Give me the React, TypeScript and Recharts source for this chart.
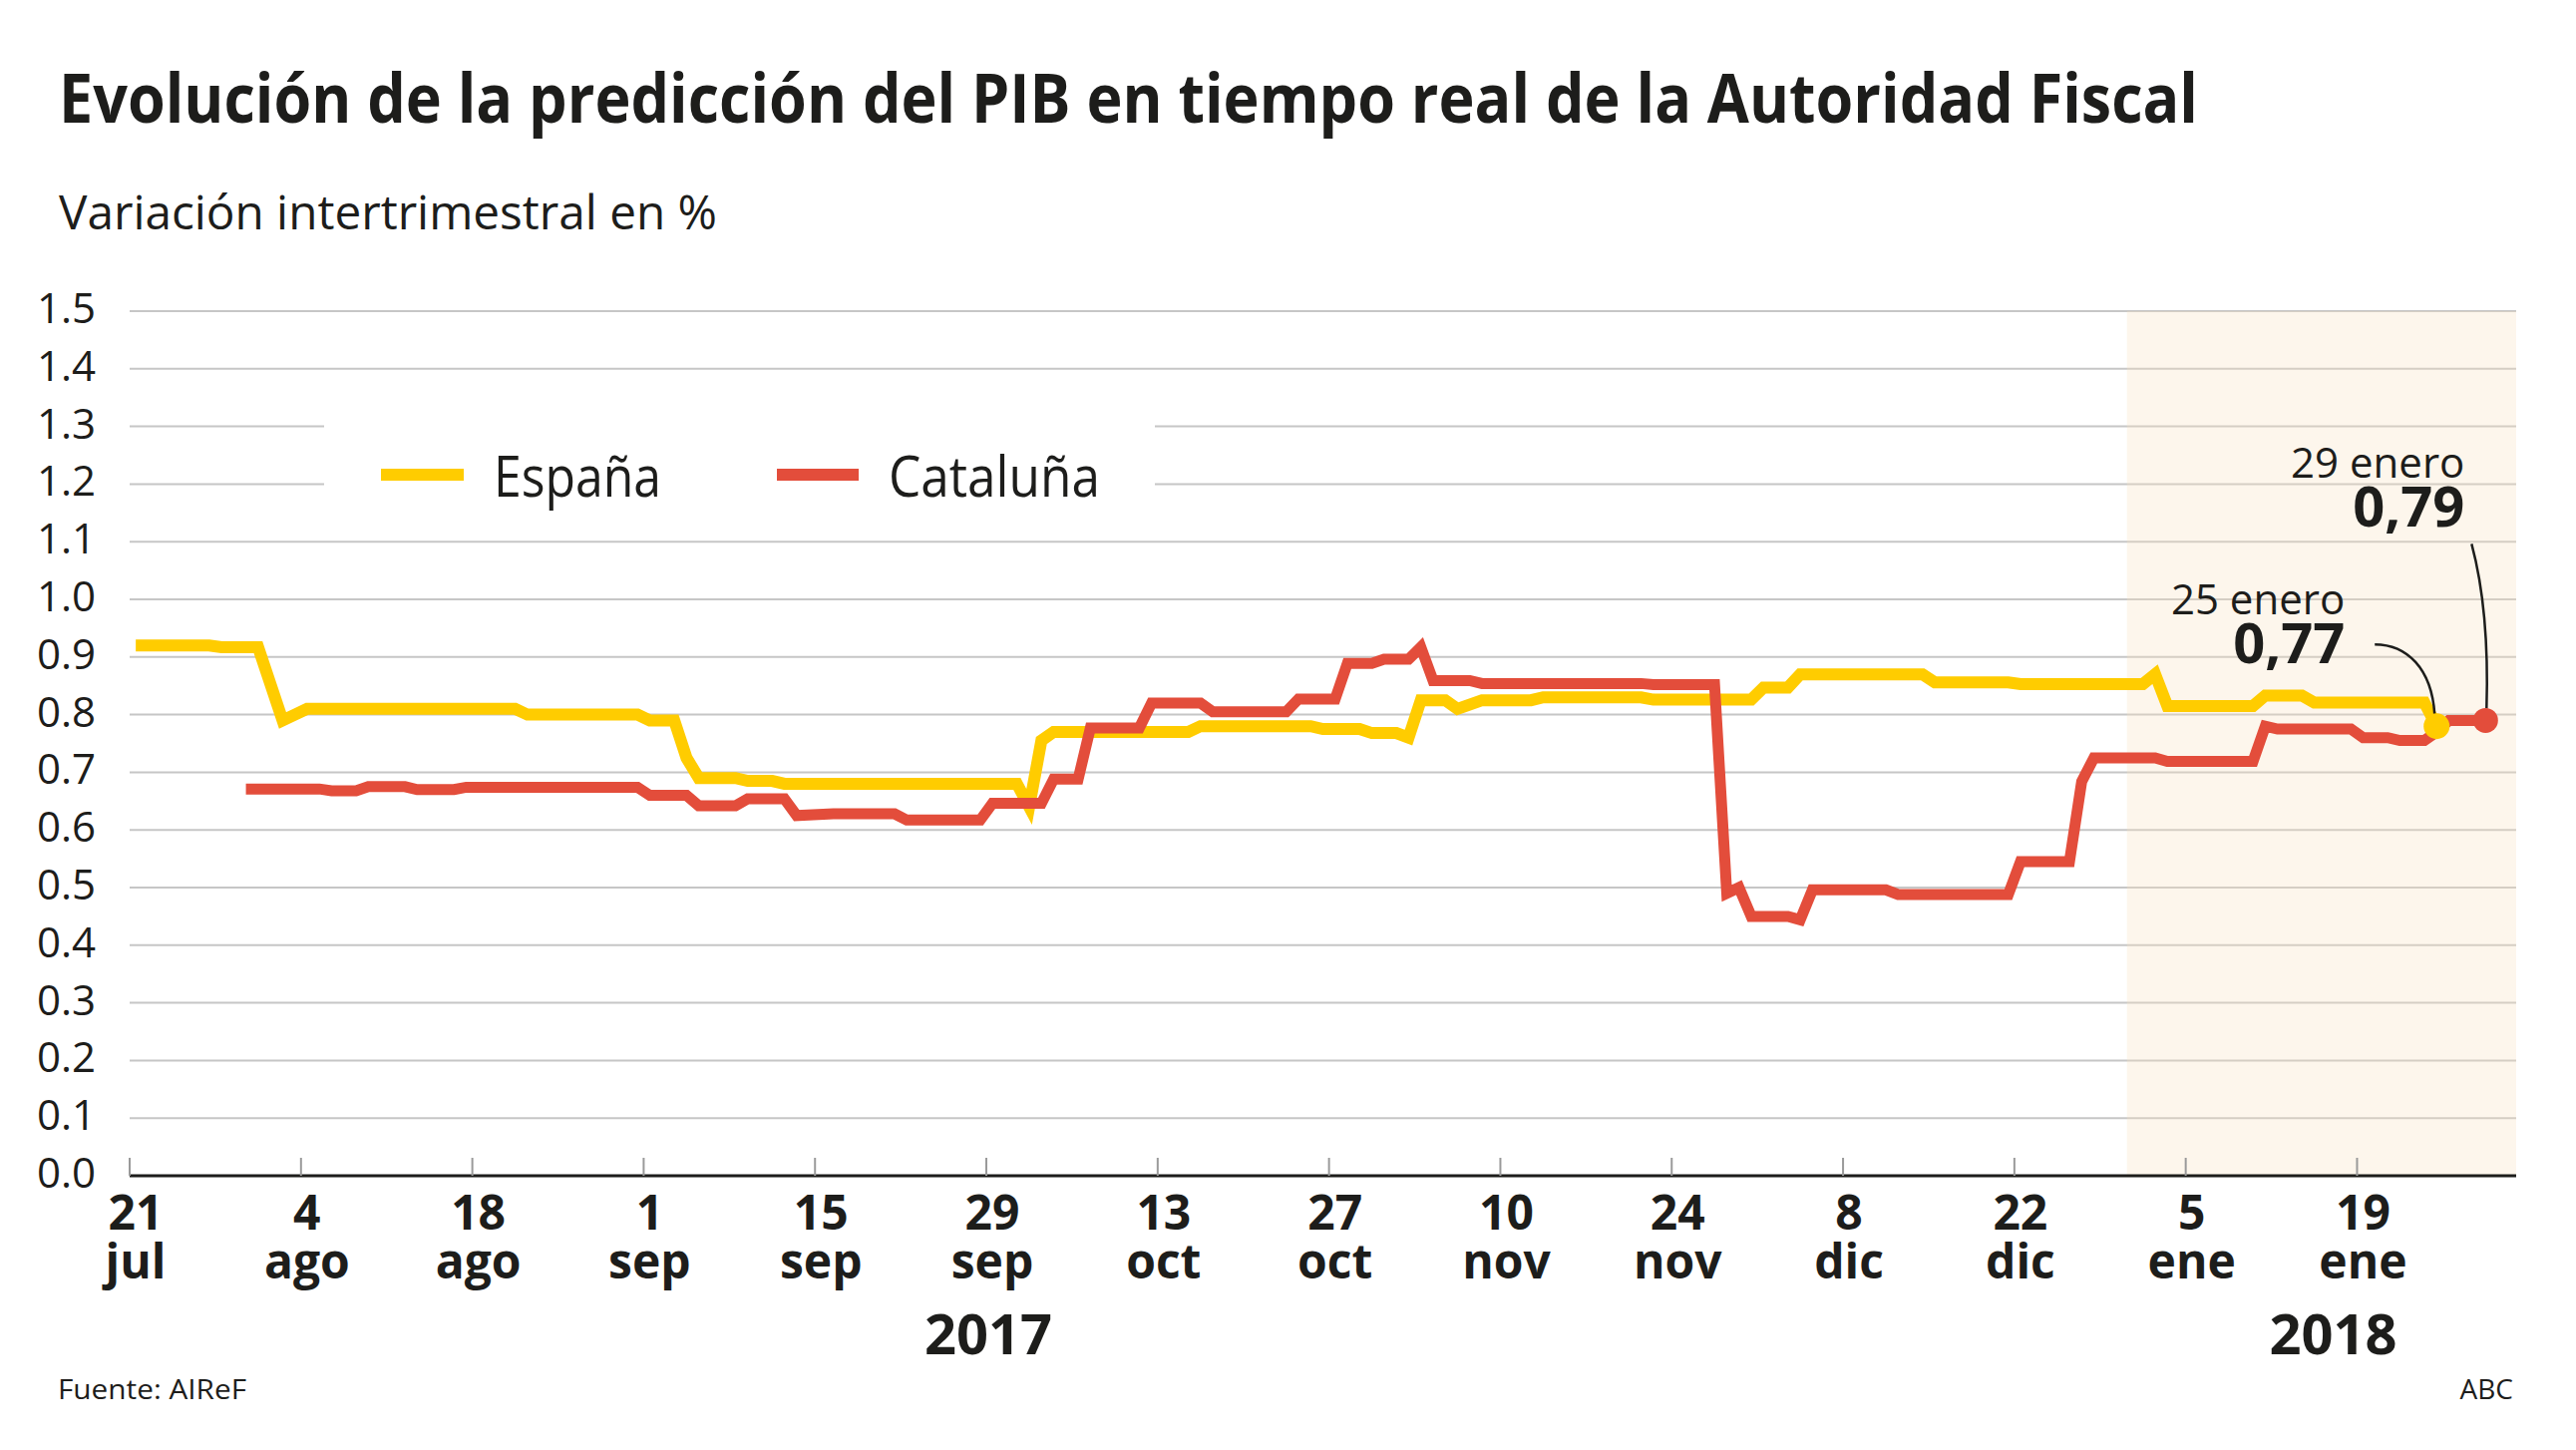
import React from "react";
import {
  LineChart,
  Line,
  XAxis,
  YAxis,
  CartesianGrid,
  ReferenceArea,
  ReferenceDot,
  Legend,
} from "recharts";

// días contados desde el 21 de julio de 2017
const espanaDias = [0, 6, 7, 10, 12, 13, 14, 31, 32, 41, 42, 44, 45, 46, 49, 50, 52, 53, 72, 73, 74, 75, 86, 87, 96, 97, 100, 101, 103, 104, 105, 107, 108, 110, 114, 115, 123, 124, 132, 133, 135, 136, 146, 147, 153, 154, 164, 165, 166, 173, 174, 177, 178, 187, 188];
const espanaValores = [0.92, 0.92, 0.917, 0.917, 0.79, 0.8, 0.81, 0.81, 0.8, 0.8, 0.79, 0.79, 0.725, 0.69, 0.69, 0.685, 0.685, 0.68, 0.68, 0.64, 0.755, 0.77, 0.77, 0.78, 0.78, 0.775, 0.775, 0.768, 0.768, 0.76, 0.825, 0.825, 0.81, 0.825, 0.825, 0.83, 0.83, 0.826, 0.826, 0.847, 0.847, 0.87, 0.87, 0.856, 0.856, 0.853, 0.853, 0.87, 0.815, 0.815, 0.833, 0.833, 0.821, 0.821, 0.78];

const catDias = [9, 15, 16, 18, 19, 22, 23, 26, 27, 41, 42, 45, 46, 49, 50, 53, 54, 57, 62, 63, 69, 70, 74, 75, 77, 78, 82, 83, 87, 88, 94, 95, 98, 99, 101, 102, 104, 105, 106, 109, 110, 123, 124, 129, 130, 131, 132, 135, 136, 137, 143, 144, 153, 154, 158, 159, 160, 165, 166, 173, 174, 175, 181, 182, 184, 185, 187, 188, 189, 192];
const catValores = [0.671, 0.671, 0.668, 0.668, 0.675, 0.675, 0.67, 0.67, 0.674, 0.674, 0.66, 0.66, 0.642, 0.642, 0.654, 0.654, 0.625, 0.628, 0.628, 0.617, 0.617, 0.646, 0.646, 0.688, 0.688, 0.777, 0.777, 0.82, 0.82, 0.805, 0.805, 0.827, 0.827, 0.889, 0.889, 0.896, 0.896, 0.917, 0.859, 0.859, 0.854, 0.854, 0.852, 0.852, 0.49, 0.5, 0.45, 0.45, 0.444, 0.496, 0.496, 0.488, 0.488, 0.545, 0.545, 0.684, 0.725, 0.725, 0.719, 0.719, 0.78, 0.775, 0.775, 0.76, 0.76, 0.755, 0.755, 0.77, 0.79, 0.79];

const tickDias = [0, 14, 28, 42, 56, 70, 84, 98, 112, 126, 140, 154, 168, 182];
const tickNumeros = ["21", "4", "18", "1", "15", "29", "13", "27", "10", "24", "8", "22", "5", "19"];
const tickMeses = ["jul", "ago", "ago", "sep", "sep", "sep", "oct", "oct", "nov", "nov", "dic", "dic", "ene", "ene"];
const anios: Record<number, string> = { 70: "2017", 182: "2018" };

const yTicks = [0, 0.1, 0.2, 0.3, 0.4, 0.5, 0.6, 0.7, 0.8, 0.9, 1.0, 1.1, 1.2, 1.3, 1.4, 1.5];

const AMARILLO = "#ffcc00";
const ROJO = "#e34d3b";
const TINTA = "#1d1d1b";
const FUENTE = "'Open Sans', 'Noto Sans', sans-serif";

// las predicciones se dibujan a mediodía de cada fecha
const MEDIODIA = 0.5;

// tabla común para las dos series
const datos = (() => {
  const mapa = new Map<number, any>();
  espanaDias.forEach((d, i) => {
    const x = d + MEDIODIA;
    mapa.set(x, { ...(mapa.get(x) || { dia: x }), espana: espanaValores[i] });
  });
  catDias.forEach((d, i) => {
    const x = d + MEDIODIA;
    mapa.set(x, { ...(mapa.get(x) || { dia: x }), cataluna: catValores[i] });
  });
  return Array.from(mapa.values()).sort((a, b) => a.dia - b.dia);
})();

const YTick = ({ y, payload }: any) => (
  <text x={37} y={y} dy={12} fontSize={42} fill={TINTA} fontFamily={FUENTE}>
    {Number(payload.value).toFixed(1)}
  </text>
);

const XTick = ({ x, y, payload }: any) => {
  const i = tickDias.indexOf(payload.value);
  const anio = anios[payload.value];
  return (
    <g fontFamily={FUENTE} fill={TINTA}>
      <line x1={x} x2={x} y1={y - 18} y2={y} stroke="#9a9a9a" strokeWidth={2} />
      <text x={x + 6} y={y + 54} textAnchor="middle" fontSize={48} fontWeight={700}>
        {tickNumeros[i]}
      </text>
      <text x={x + 6} y={y + 103} textAnchor="middle" fontSize={48} fontWeight={700}>
        {tickMeses[i]}
      </text>
      {anio && (
        <text x={anio === "2018" ? x - 24 : x + 2} y={y + 179} textAnchor="middle" fontSize={56} fontWeight={700}>
          {anio}
        </text>
      )}
    </g>
  );
};

// punto final de Cataluña con su etiqueta
const PuntoCataluna = ({ cx, cy }: any) => (
  <g fontFamily={FUENTE} fill={TINTA}>
    <path d={`M ${cx - 14} ${cy - 177} Q ${cx + 4} ${cy - 110} ${cx + 1} ${cy - 12}`} stroke={TINTA} strokeWidth={2.5} fill="none" />
    <circle cx={cx} cy={cy} r={12.5} fill={ROJO} />
    <text x={cx - 21} y={cy - 243} textAnchor="end" fontSize={42}>29 enero</text>
    <text x={cx - 21} y={cy - 194} textAnchor="end" fontSize={56} fontWeight={700}>0,79</text>
  </g>
);

// punto final de España con su etiqueta
const PuntoEspana = ({ cx, cy }: any) => (
  <g fontFamily={FUENTE} fill={TINTA}>
    <path d={`M ${cx - 62} ${cy - 82} C ${cx - 30} ${cy - 82} ${cx - 5} ${cy - 58} ${cx - 2} ${cy - 12}`} stroke={TINTA} strokeWidth={2.5} fill="none" />
    <circle cx={cx} cy={cy} r={13} fill={AMARILLO} />
    <text x={cx - 92} y={cy - 112} textAnchor="end" fontSize={42}>25 enero</text>
    <text x={cx - 92} y={cy - 63} textAnchor="end" fontSize={56} fontWeight={700}>0,77</text>
  </g>
);

const Leyenda = () => (
  <svg width={833} height={135} style={{ display: "block" }}>
    <rect x={57} y={65} width={83} height={12} fill={AMARILLO} />
    <text x={170} y={93} fontSize={57} fill={TINTA} fontFamily={FUENTE} textLength={168} lengthAdjust="spacingAndGlyphs">
      España
    </text>
    <rect x={454} y={65} width={82} height={12} fill={ROJO} />
    <text x={566} y={93} fontSize={57} fill={TINTA} fontFamily={FUENTE} textLength={212} lengthAdjust="spacingAndGlyphs">
      Cataluña
    </text>
  </svg>
);

export default function App() {
  return (
    <div style={{ position: "relative", width: 2583, height: 1454, background: "#fff" }}>
      <style>{"body{margin:0}"}</style>
      <LineChart width={2583} height={1454} data={datos} margin={{ top: 312, right: 60, bottom: 0, left: 0 }}>
        <ReferenceArea x1={163.2} x2={195} fill="#f8e1c0" fillOpacity={0.3} stroke="none" />
        <CartesianGrid vertical={false} stroke="#c6c6c6" strokeWidth={2} />
        <XAxis
          dataKey="dia"
          type="number"
          domain={[0, 195]}
          ticks={tickDias}
          interval={0}
          height={275}
          tickSize={0}
          tickMargin={0}
          tickLine={false}
          axisLine={{ stroke: TINTA, strokeWidth: 3 }}
          tick={<XTick />}
        />
        <YAxis
          type="number"
          domain={[0, 1.5]}
          ticks={yTicks}
          interval={0}
          width={130}
          axisLine={false}
          tickLine={false}
          tick={<YTick />}
        />
        <Legend
          layout="horizontal"
          verticalAlign="middle"
          align="center"
          wrapperStyle={{ left: 325, top: 405, width: 833, height: 135, background: "#fff" }}
          content={() => <Leyenda />}
        />
        <Line dataKey="espana" stroke={AMARILLO} strokeWidth={12} dot={false} connectNulls isAnimationActive={false} />
        <Line dataKey="cataluna" stroke={ROJO} strokeWidth={11} dot={false} connectNulls isAnimationActive={false} />
        <ReferenceDot x={188 + MEDIODIA} y={0.78} r={13} shape={(p: any) => <PuntoEspana {...p} />} />
        <ReferenceDot x={192 + MEDIODIA} y={0.79} r={12} shape={(p: any) => <PuntoCataluna {...p} />} />
      </LineChart>
      <svg
        width={2583}
        height={1454}
        style={{ position: "absolute", left: 0, top: 0, pointerEvents: "none" }}
        fontFamily={FUENTE}
        fill={TINTA}
      >
        <text x={59} y={123} fontSize={68} fontWeight={700} textLength={2145} lengthAdjust="spacingAndGlyphs">
          Evolución de la predicción del PIB en tiempo real de la Autoridad Fiscal
        </text>
        <text x={59} y={230} fontSize={47} textLength={660} lengthAdjust="spacingAndGlyphs">
          Variación intertrimestral en %
        </text>
        <text x={58} y={1403} fontSize={28} textLength={189} lengthAdjust="spacingAndGlyphs">
          Fuente: AIReF
        </text>
        <text x={2520} y={1403} fontSize={28} textAnchor="end">
          ABC
        </text>
      </svg>
    </div>
  );
}
